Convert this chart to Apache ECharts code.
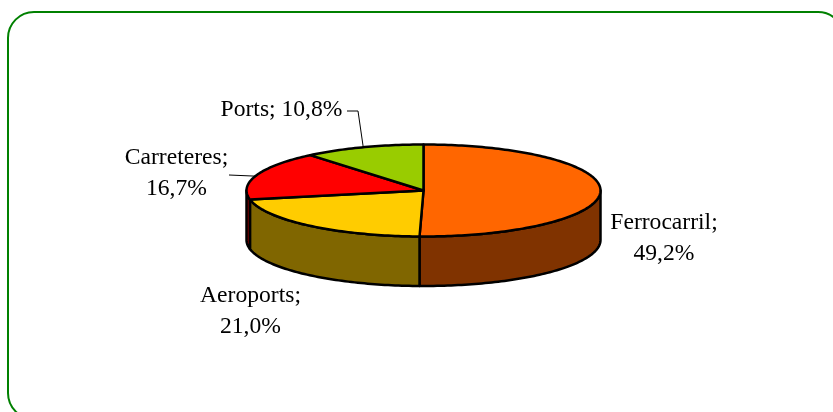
<!DOCTYPE html>
<html><head><meta charset="utf-8">
<style>html,body{margin:0;padding:0;background:#fff}#c{width:833px;height:412px}</style>
<script src="https://cdn.jsdelivr.net/npm/echarts@6/dist/echarts.min.js"></script>
</head><body><div id="c"></div>
<script>
const categories = ['Ferrocarril', 'Aeroports', 'Carreteres', 'Ports'];
const values = [49.2, 21.0, 16.7, 10.8];
const topColors = ['#FF6600', '#FFCC00', '#FF0000', '#99CC00'];
const sideColors = ['#803300', '#806600', '#800000', '#4D6600'];
const labelLines = [
  ['Ferrocarril;', '49,2%'],
  ['Aeroports;', '21,0%'],
  ['Carreteres;', '16,7%'],
  ['Ports; 10,8%']
];
const labelBox = [[664, 223], [250.5, 296], [176.5, 158], [281.5, 110]];
const leaderStart = [null, null, [229, 175], [347, 111]];

const cx = 423.5, cy = 190.5, rx = 177, ry = 46, depth = 49.5;
const total = values.reduce((a, b) => a + b, 0);
const bounds = [0];
values.forEach(v => bounds.push(bounds[bounds.length - 1] + v / total * 2 * Math.PI));
const px = a => cx + rx * Math.sin(a);
const py = a => cy - ry * Math.cos(a);

function arcPts(a0, a1, dy) {
  const n = Math.max(2, Math.ceil((a1 - a0) / 0.02));
  const pts = [];
  for (let i = 0; i <= n; i++) {
    const a = a0 + (a1 - a0) * i / n;
    pts.push([px(a), py(a) + dy]);
  }
  return pts;
}

function renderSide(params) {
  const i = params.dataIndex;
  const a0 = Math.max(bounds[i], Math.PI / 2);
  const a1 = Math.min(bounds[i + 1], Math.PI * 1.5);
  if (a1 <= a0) return { type: 'group', children: [] };
  const pts = arcPts(a0, a1, 0).concat(arcPts(a0, a1, depth).reverse());
  return {
    type: 'polygon',
    shape: { points: pts },
    style: { fill: sideColors[i], stroke: '#000', lineWidth: 2.5, lineJoin: 'round' }
  };
}

function renderTop(params) {
  const i = params.dataIndex;
  const pts = [[cx, cy]].concat(arcPts(bounds[i], bounds[i + 1], 0));
  return {
    type: 'polygon',
    shape: { points: pts },
    style: { fill: topColors[i], stroke: '#000', lineWidth: 2.5, lineJoin: 'round' }
  };
}

function renderLabel(params) {
  const i = params.dataIndex;
  const children = [];
  labelLines[i].forEach((t, k) => {
    children.push({
      type: 'text',
      style: {
        text: t, x: labelBox[i][0], y: labelBox[i][1] + k * 31,
        fill: '#000', font: '23.6px "Liberation Serif"',
        textAlign: 'center', textVerticalAlign: 'middle'
      }
    });
  });
  if (leaderStart[i]) {
    const mid = (bounds[i] + bounds[i + 1]) / 2;
    const s = leaderStart[i];
    const pts = i === 3 ? [s, [s[0] + 11, s[1]], [px(mid), py(mid)]] : [s, [px(mid), py(mid) + 1]];
    children.push({
      type: 'polyline',
      shape: { points: pts },
      style: { fill: null, stroke: '#000', lineWidth: 1 }
    });
  }
  return { type: 'group', children };
}

const rows = values.map((v, i) => [i, v]);
const chart = echarts.init(document.getElementById('c'), null, { renderer: 'canvas' });
chart.setOption({
  animation: false,
  backgroundColor: '#fff',
  graphic: [{
    type: 'rect', z: 0, silent: true,
    shape: { x: 8, y: 12, width: 836, height: 407, r: 26 },
    style: { fill: '#fff', stroke: '#008000', lineWidth: 2 }
  }],
  series: [
    { type: 'custom', coordinateSystem: 'none', data: rows, renderItem: renderSide, z: 2, silent: true },
    { type: 'custom', coordinateSystem: 'none', data: rows, renderItem: renderTop, z: 3, silent: true },
    { type: 'custom', coordinateSystem: 'none', data: rows, renderItem: renderLabel, z: 4, silent: true }
  ]
});
</script></body></html>
